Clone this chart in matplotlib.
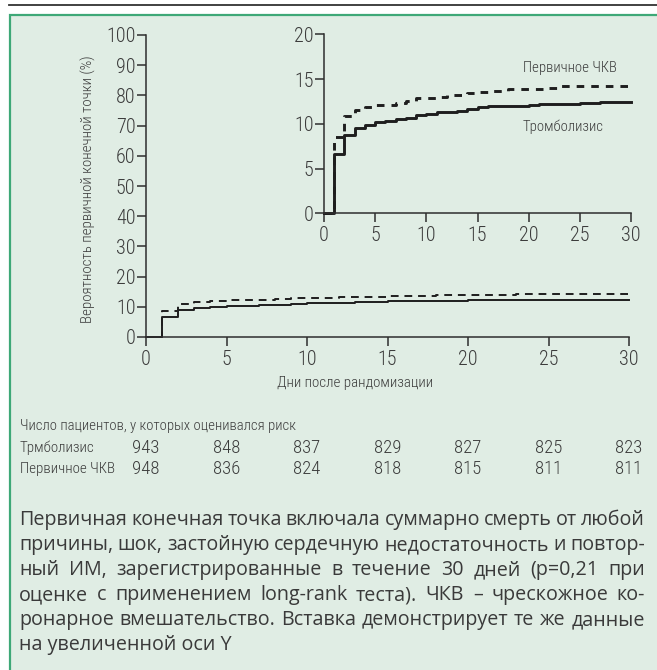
import matplotlib
matplotlib.use("Agg")
import matplotlib.pyplot as plt
from matplotlib import font_manager as fm
from matplotlib.patches import Rectangle
from matplotlib.lines import Line2D

# ---------------- data ----------------
thromb_days = [0, 1, 2, 3, 4, 5, 6, 7, 8, 9, 10, 11, 13, 14, 15, 16, 20, 21, 25, 27, 30]
thromb_vals = [0, 6.6, 8.8, 9.5, 9.85, 10.15, 10.3, 10.5, 10.7, 10.95, 11.1, 11.3,
               11.45, 11.65, 11.85, 12.0, 12.1, 12.2, 12.3, 12.4, 12.4]
pci_days = [0, 1, 2, 3, 4, 5, 7, 8, 9, 11, 12, 14, 15, 16, 18, 22, 23, 30]
pci_vals = [0, 8.5, 10.9, 11.5, 11.9, 12.1, 12.3, 12.6, 12.85, 12.95, 13.2, 13.4,
            13.5, 13.7, 13.85, 14.0, 14.25, 14.25]

risk_times = [0, 5, 10, 15, 20, 25, 30]
risk_thromb = [943, 848, 837, 829, 827, 825, 823]
risk_pci = [948, 836, 824, 818, 815, 811, 811]

main_yticks = [0, 10, 20, 30, 40, 50, 60, 70, 80, 90, 100]
inset_yticks = [0, 5, 10, 15, 20]
xticks = [0, 5, 10, 15, 20, 25, 30]

label_pci = "Первичное ЧКВ"
label_thromb = "Тромболизис"
row_thromb = "Трмболизис"
row_pci = "Первичное ЧКВ"
ylabel = "Вероятность первичной конечной точки (%)"
xlabel = "Дни после рандомизации"
risk_title = "Число пациентов, у которых оценивался риск"
caption_lines = [
    "Первичная конечная точка включала суммарно смерть от любой",
    "причины, шок, застойную сердечную недостаточность и повтор-",
    "ный ИМ, зарегистрированные в течение 30 дней (p=0,21 при",
    "оценке с применением long-rank теста). ЧКВ – чрескожное ко-",
    "ронарное вмешательство. Вставка демонстрирует те же данные",
    "на увеличенной оси Y",
]

# ---------------- fonts ----------------
flist = fm.fontManager.ttflist
avail = {f.name for f in flist}
narrow = "DejaVu Sans"
for cand in ["Roboto Condensed", "Liberation Sans Narrow", "Open Sans Condensed", "Noto Sans Condensed"]:
    if cand in avail:
        narrow = cand
        break
body_font = "Open Sans" if "Open Sans" in avail else "DejaVu Sans"


def has_weight(name, maxw):
    return any(f.name == name and (f.weight if isinstance(f.weight, int) else 400) <= maxw
               for f in flist)


narrow_w = "light" if has_weight(narrow, 300) else "normal"
body_w = "normal"

W, H = 657, 670
fig = plt.figure(figsize=(W / 100, H / 100), dpi=100)


def fx(x):
    return x / W


def fy(y):
    return 1 - y / H


TXT = "#3c3c3c"
AX = "#2e2e2e"
BG = "#e0ede4"

# background panel and top rule
fig.patches.append(Rectangle((fx(9.5), fy(672)), fx(660) - fx(9.5), fy(14.5) - fy(672),
                             transform=fig.transFigure, facecolor=BG, edgecolor="#3ea877",
                             linewidth=1.6, zorder=-10))
fig.lines.append(Line2D([fx(9), fx(657)], [fy(5), fy(5)], transform=fig.transFigure,
                        color="#333333", linewidth=1.3, zorder=-10))


def style_axes(ax, ticks_y, fs):
    ax.patch.set_alpha(0)
    for s in ["top", "right"]:
        ax.spines[s].set_visible(False)
    for s in ["left", "bottom"]:
        ax.spines[s].set_color(AX)
        ax.spines[s].set_linewidth(1.1)
    ax.set_xlim(0, 30)
    ax.set_xticks(xticks)
    ax.set_yticks(ticks_y)
    ax.tick_params(axis="both", direction="out", length=6.5, width=1.1, color=AX,
                   labelcolor=TXT, labelsize=fs, pad=1)
    for lab in ax.get_xticklabels() + ax.get_yticklabels():
        lab.set_family(narrow)
        lab.set_fontweight(narrow_w)


# main axes
ax = fig.add_axes([fx(146), fy(337), fx(629) - fx(146), fy(35) - fy(337)])
style_axes(ax, main_yticks, 14.5)
ax.set_ylim(0, 100)
ax.step(thromb_days, thromb_vals, where="post", color="#1e1e1e", lw=1.4, clip_on=False)
ax.step(pci_days, pci_vals, where="post", color="#1e1e1e", lw=1.4, dashes=(4, 3), clip_on=False)
ax.tick_params(axis="x", pad=3)

# inset axes
ins = fig.add_axes([fx(324), fy(213.3), fx(631) - fx(324), fy(34.3) - fy(213.3)])
style_axes(ins, inset_yticks, 14.5)
ins.set_ylim(0, 20)
ins.step(thromb_days, thromb_vals, where="post", color="#1e1e1e", lw=2.1, clip_on=False)
ins.step(pci_days, pci_vals, where="post", color="#1e1e1e", lw=2.1, dashes=(2.6, 2.4), clip_on=False)
ins.tick_params(axis="x", pad=3)

kw = dict(family=narrow, fontweight=narrow_w, color=TXT)
fig.text(fx(523), fy(68), label_pci, fontsize=10.6, ha="left", va="center", **kw)
fig.text(fx(523), fy(127), label_thromb, fontsize=10.6, ha="left", va="center", **kw)

# axis labels
fig.text(fx(88), fy(189), ylabel, fontsize=10.8, rotation=90, ha="center", va="center", **kw)
fig.text(fx(355), fy(383), xlabel, fontsize=10.8, ha="center", va="center", **kw)

# numbers at risk
fig.text(fx(20), fy(426), risk_title, fontsize=10.6, ha="left", va="center", **kw)
fig.text(fx(20), fy(448), row_thromb, fontsize=10.8, ha="left", va="center", **kw)
fig.text(fx(20), fy(469), row_pci, fontsize=10.8, ha="left", va="center", **kw)
for t, a, b in zip(risk_times, risk_thromb, risk_pci):
    xd = ax.transData.transform((t, 0))[0]
    xf = fig.transFigure.inverted().transform((xd, 0))[0]
    fig.text(xf, fy(448), str(a), fontsize=13.5, ha="center", va="center", **kw)
    fig.text(xf, fy(469), str(b), fontsize=13.5, ha="center", va="center", **kw)

# caption (justified)
renderer = fig.canvas.get_renderer()
left_px, right_px = 19, 645
cap_fs = 14.2
y0, dy = 520, 25
for i, line in enumerate(caption_lines):
    yy = fy(y0 + i * dy)
    words = line.split(" ")
    if i == len(caption_lines) - 1:
        fig.text(fx(left_px), yy, line, family=body_font, fontweight=body_w, fontsize=cap_fs,
                 color="#3a3a3a", ha="left", va="center")
        continue
    objs = [fig.text(0, yy, w, family=body_font, fontweight=body_w, fontsize=cap_fs,
                     color="#3a3a3a", ha="left", va="center") for w in words]
    widths = [o.get_window_extent(renderer).width for o in objs]
    gap = ((right_px - left_px) - sum(widths)) / (len(words) - 1)
    x = left_px
    for o, wdt in zip(objs, widths):
        o.set_x(fx(x))
        x += wdt + gap

fig.savefig("out.png", dpi=100)
